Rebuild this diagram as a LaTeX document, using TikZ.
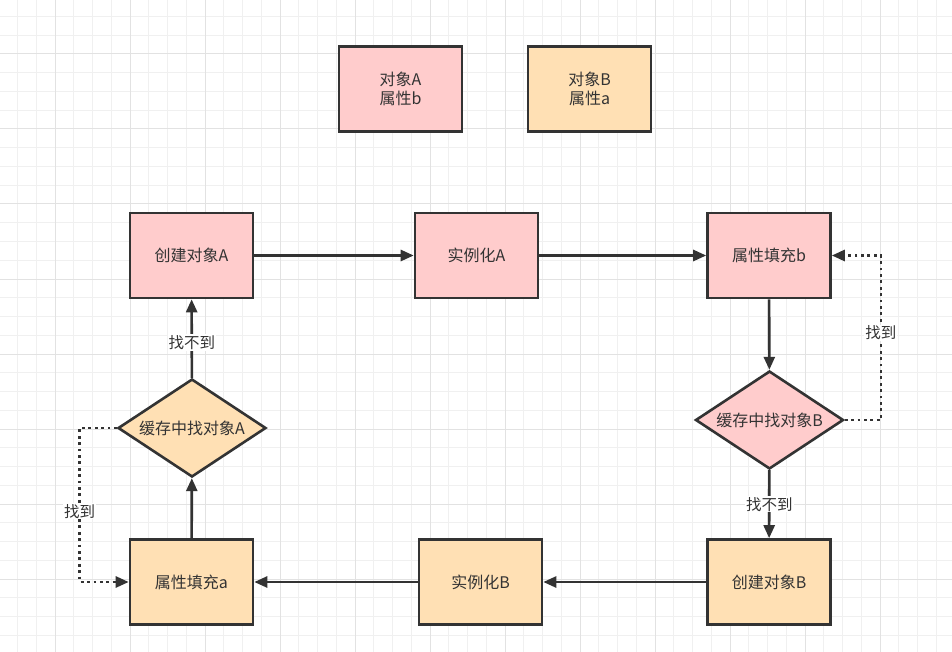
\documentclass[tikz,border=0pt]{standalone}
\usepackage{fontspec}
\setmainfont{Noto Sans CJK SC}
\usetikzlibrary{shapes.geometric,arrows.meta}
\definecolor{pinkfill}{HTML}{FFCCCC}
\definecolor{orangefill}{HTML}{FFE0B4}
\definecolor{linegray}{HTML}{333333}
\definecolor{minorgrid}{HTML}{F0F0F0}
\definecolor{majorgrid}{HTML}{E2E2E2}
\tikzset{
    box/.style={draw=linegray, line width=2.6pt, minimum width=123pt, minimum height=85pt,
        align=center, text=linegray, font=\fontsize{16}{19}\selectfont},
    pinkbox/.style={box, fill=pinkfill},
    orangebox/.style={box, fill=orangefill},
    dia/.style={diamond, draw=linegray, line width=2.6pt, aspect=1.5, inner sep=0pt,
        minimum width=148pt, minimum height=98pt, text=linegray, font=\fontsize{16}{19}\selectfont},
    pinkdia/.style={dia, fill=pinkfill},
    orangedia/.style={dia, fill=orangefill},
    arr/.style={draw=linegray, line width=2.6pt, -{Triangle[length=13pt,width=11pt]}},
    dots/.style={arr, dash pattern=on 2.8pt off 3.6pt},
    lbl/.style={fill=white, text=linegray, inner sep=1pt, font=\fontsize{15.5}{19}\selectfont}
}
\begin{document}
\begin{tikzpicture}[x=1pt, y=-1pt]
    % canvas and background grid
    \useasboundingbox[fill=white] (0,0) rectangle (952,652);
    \foreach \k in {-1,...,51} {
        \pgfmathsetmacro{\gx}{17.5+18.75*\k}
        \draw[minorgrid, line width=1pt] (\gx,0) -- (\gx,652);
    }
    \foreach \k in {-1,...,35} {
        \pgfmathsetmacro{\gy}{16.5+18.75*\k}
        \draw[minorgrid, line width=1pt] (0,\gy) -- (952,\gy);
    }
    \foreach \k in {-1,...,12} \draw[majorgrid, line width=1pt] (55+75*\k,0) -- (55+75*\k,652);
    \foreach \k in {-1,...,8} \draw[majorgrid, line width=1pt] (0,54+75*\k) -- (952,54+75*\k);

    % legend boxes
    \node[pinkbox] (objA) at (400.5,89) {对象A\\属性b};
    \node[orangebox] (objB) at (589.5,89) {对象B\\属性a};

    % main cycle
    \node[pinkbox] (createA) at (191.5,255.5) {创建对象A};
    \node[pinkbox] (instA) at (476.5,255.5) {实例化A};
    \node[pinkbox] (fillB) at (769,255.5) {属性填充b};
    \node[pinkdia] (cacheB) at (769.5,420) {缓存中找对象B};
    \node[orangebox] (createB) at (769,582) {创建对象B};
    \node[orangebox] (instB) at (480.5,582) {实例化B};
    \node[orangebox] (fillA) at (191.5,582) {属性填充a};
    \node[orangedia] (cacheA) at (192,428) {缓存中找对象A};

    % connectors
    \draw[arr] (createA) -- (instA);
    \draw[arr] (instA) -- (fillB);
    \draw[arr] (fillB) -- (cacheB);
    \draw[arr] (cacheB) -- node[lbl] {找不到} (createB);
    \draw[arr] (createB) -- (instB);
    \draw[arr] (instB) -- (fillA);
    \draw[arr] (fillA) -- (cacheA);
    \draw[arr] (cacheA) -- node[lbl, pos=0.45] {找不到} (createA);

    % found in cache: dotted shortcuts
    \draw[dots] (cacheA.west) -- ++(-37,0) |- node[lbl, pos=0.27] {找到} (fillA.west);
    \draw[dots] (cacheB.east) -- ++(36,0) |- node[lbl, pos=0.265] {找到} (fillB.east);
\end{tikzpicture}
\end{document}
